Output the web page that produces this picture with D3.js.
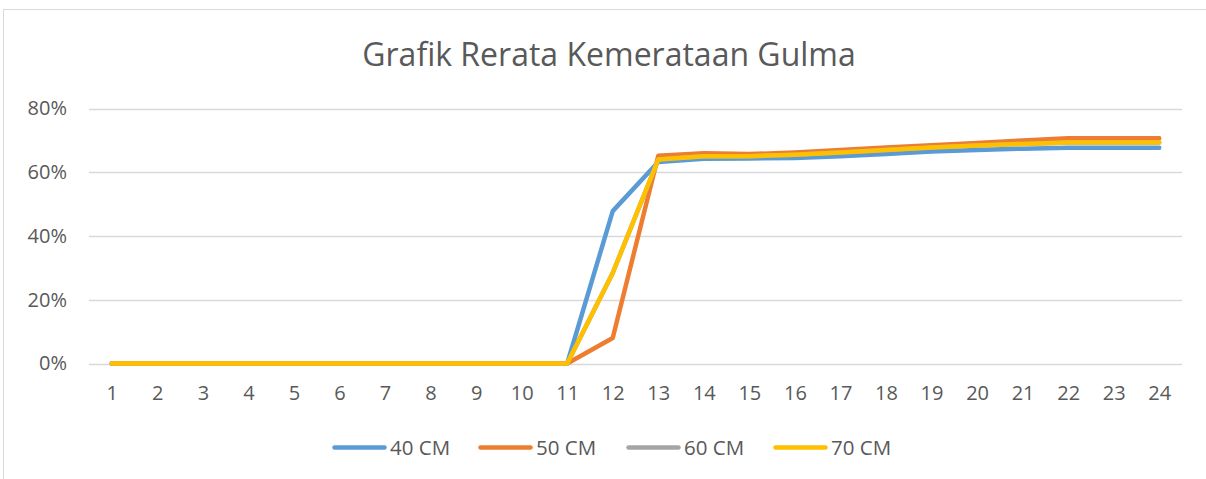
<!DOCTYPE html>
<html><head><meta charset="utf-8">
<script src="https://cdn.jsdelivr.net/npm/d3@7/dist/d3.min.js"></script>
<style>html,body{margin:0;padding:0;background:#fff;}svg{display:block;}</style>
</head><body>
<script>
const categories = ["1","2","3","4","5","6","7","8","9","10","11","12","13","14","15","16","17","18","19","20","21","22","23","24"];
const seriesNames = ["40 CM","50 CM","60 CM","70 CM"];
const s40 = [0,0,0,0,0,0,0,0,0,0,0,0.478,0.632,0.642,0.643,0.645,0.650,0.657,0.665,0.670,0.674,0.677,0.677,0.677];
const s50 = [0,0,0,0,0,0,0,0,0,0,0,0.080,0.652,0.660,0.657,0.662,0.670,0.678,0.685,0.692,0.700,0.707,0.707,0.707];
const s60 = [0,0,0,0,0,0,0,0,0,0,0,0.284,0.640,0.650,0.650,0.655,0.662,0.670,0.678,0.684,0.689,0.693,0.693,0.693];
const s70 = [0,0,0,0,0,0,0,0,0,0,0,0.284,0.640,0.650,0.650,0.655,0.662,0.670,0.678,0.684,0.689,0.693,0.693,0.693];
const yTicks = [0,0.2,0.4,0.6,0.8];
const colors = ["#5B9BD5","#ED7D31","#A5A5A5","#FFC000"];
const title = "Grafik Rerata Kemerataan Gulma";

const W = 1206, H = 479;
const svg = d3.select("body").append("svg").attr("width", W).attr("height", H);
const font = "'Open Sans', 'Liberation Sans', sans-serif";
const txt = "#595959";

// chart border
svg.append("rect").attr("x",3.5).attr("y",9.5).attr("width",1250).attr("height",600)
  .attr("fill","none").attr("stroke","#D9D9D9").attr("stroke-width",1);

svg.append("text").attr("x",609).attr("y",66).attr("text-anchor","middle")
  .attr("font-family",font).attr("font-size",32).attr("fill",txt).text(title);

const x = d3.scaleBand().domain(categories).range([89,1182]);
const xc = d => x(d) + x.bandwidth()/2;
const y = d3.scaleLinear().domain([0,0.8]).range([363.5,108.5]);

// gridlines
svg.append("g").selectAll("line").data(yTicks).join("line")
  .attr("x1",89).attr("x2",1182).attr("y1",d=>Math.round(y(d))+0.5).attr("y2",d=>Math.round(y(d))+0.5)
  .attr("stroke","#D9D9D9").attr("stroke-width",1.5);

// y axis labels
const yAxis = d3.axisLeft(y).tickValues(yTicks).tickFormat(d3.format(".0%")).tickSize(0).tickPadding(0);
const ga = svg.append("g").attr("transform","translate(67,0)").call(yAxis);
ga.select(".domain").remove();
ga.selectAll("text").attr("font-family",font).attr("font-size",20).attr("fill",txt);

// x axis labels
const xAxis = d3.axisBottom(d3.scalePoint().domain(categories).range([xc("1"), xc("24")])).tickSize(0).tickPadding(0);
const gx = svg.append("g").attr("transform","translate(0,386)").call(xAxis);
gx.select(".domain").remove();
gx.selectAll("text").attr("font-family",font).attr("font-size",20).attr("fill",txt);

const series = [s40,s50,s60,s70];
const line = d3.line().x((d,i)=>xc(categories[i])).y(d=>y(d));
series.forEach((s,k)=>{
  svg.append("path").datum(s).attr("d",line).attr("fill","none")
    .attr("stroke",colors[k]).attr("stroke-width",4.5).attr("stroke-linejoin","round").attr("stroke-linecap","round");
});

// legend
const legX = [332,478,626,773];
seriesNames.forEach((n,k)=>{
  const g = svg.append("g");
  g.append("line").attr("x1",legX[k]+2.5).attr("x2",legX[k]+52.5).attr("y1",447.5).attr("y2",447.5)
    .attr("stroke",colors[k]).attr("stroke-width",4.5).attr("stroke-linecap","round");
  g.append("text").attr("x",legX[k]+58).attr("y",447.5).attr("dy","0.35em")
    .attr("font-family",font).attr("font-size",20.5).attr("fill",txt).text(n);
});
</script>
</body></html>
